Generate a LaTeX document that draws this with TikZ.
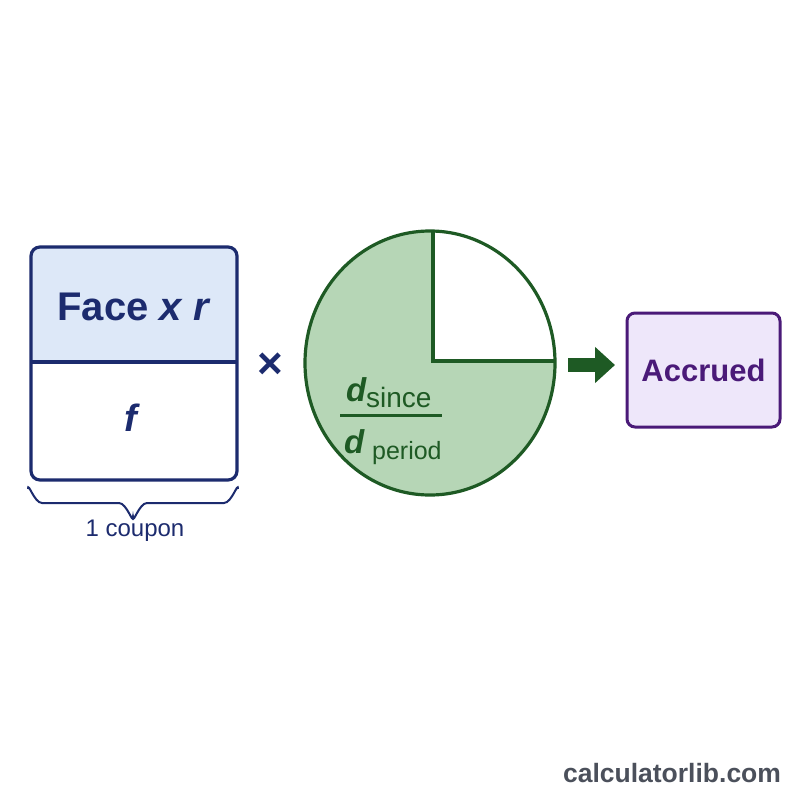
\documentclass[tikz,border=0pt]{standalone}
\usepackage{fontspec}
\setmainfont{Liberation Sans}
\usetikzlibrary{arrows.meta}
\definecolor{navy}{HTML}{1C2B6E}
\definecolor{lightblue}{HTML}{DDE8F8}
\definecolor{dgreen}{HTML}{1E5A24}
\definecolor{lgreen}{HTML}{B6D6B6}
\definecolor{purp}{HTML}{4A1A78}
\definecolor{lav}{HTML}{EEE7FA}
\definecolor{gray1}{HTML}{4B505B}
\tikzset{
  lbl/.style={inner sep=0pt, outer sep=0pt},
}
\begin{document}
\begin{tikzpicture}[x=1pt,y=-1pt]
\useasboundingbox[fill=white] (0,0) rectangle (800,800);
% coupon box
\begin{scope}
\clip[rounded corners=9] (31,247) rectangle (237,480);
\fill[lightblue] (31,247) rectangle (237,362);
\end{scope}
\draw[navy, line width=3.2pt, rounded corners=9] (31,247) rectangle (237,480);
\coordinate (divL) at (31,362);
\coordinate (divR) at (237,362);
\draw[navy, line width=3.2pt] (divL) -- (divR);
\node[lbl, navy, font=\fontsize{40}{40}\selectfont\bfseries] (face) at (134,307) {Face \textit{x r}};
\node[lbl, navy, font=\fontsize{38}{38}\selectfont\bfseries\itshape] (f) at (131,418) {f};
% brace
\draw[navy, line width=2pt] (28,489) to[out=90,in=180] (42,503) -- (119,503) to[out=0,in=-90] (133,517)
  to[out=-90,in=180] (147,503) -- (224,503) to[out=0,in=90] (238,489);
\node[lbl, navy, font=\fontsize{24}{24}\selectfont] (coupon) at (135,531) {1 coupon};
% times
\node[lbl, navy, font=\fontsize{44}{44}\selectfont\bfseries] (times) at (270,366) {×};
% circle
\coordinate (c) at (430,363);
\coordinate (q) at (433,361);
\fill[lgreen] (c) ellipse[x radius=125, y radius=132];
\begin{scope}
\clip (c) ellipse[x radius=125, y radius=132];
\fill[white] (433,200) rectangle (600,361);
\end{scope}
\draw[dgreen, line width=3.2pt] (c) ellipse[x radius=125, y radius=132];
\draw[dgreen, line width=3.2pt] (433,232) -- (q) -- (555,361);
% fraction
\node[lbl, anchor=base west, dgreen] (num) at (346,401) {{\fontsize{33}{33}\selectfont\bfseries\itshape d}\raisebox{-6pt}{\fontsize{28}{28}\selectfont since}};
\coordinate (fl) at (340,415);
\coordinate (fr) at (442,415);
\draw[dgreen, line width=3pt] (fl) -- (fr);
\node[lbl, anchor=base west, dgreen] (den) at (344,453) {{\fontsize{33}{33}\selectfont\bfseries\itshape d}\hspace{8pt}\raisebox{-6pt}{\fontsize{25}{25}\selectfont period}};
% accrued box
\node[draw=purp, fill=lav, line width=3pt, rounded corners=8, minimum width=153pt, minimum height=114pt, font=\fontsize{31}{31}\selectfont\bfseries, text=purp] (acc) at (703.5,370) {Accrued};
% arrow
\coordinate (as) at (568,365);
\coordinate (ae) at (615,365);
\draw[dgreen, line width=14pt, -{Triangle[length=20pt,width=35pt]}] (as) -- (ae);
% watermark
\node[lbl, gray1, font=\fontsize{26.5}{26.5}\selectfont\bfseries] (wm) at (672,773) {calculatorlib.com};
\end{tikzpicture}
\end{document}
